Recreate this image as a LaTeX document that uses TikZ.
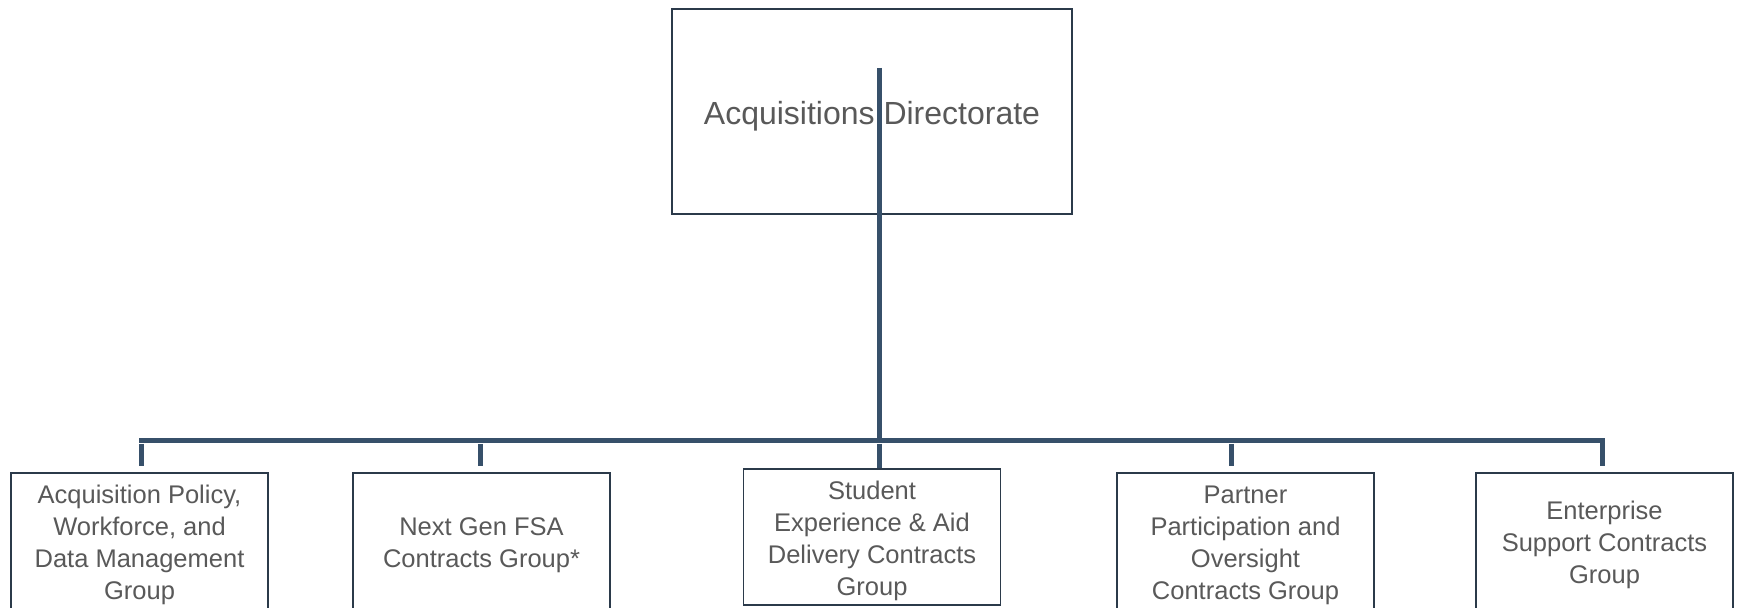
\documentclass[tikz,border=0pt]{standalone}
\usepackage{fontspec}
\setmainfont{Liberation Sans}
\definecolor{conncol}{HTML}{37506A}
\definecolor{boxcol}{HTML}{2B3A4A}
\definecolor{txtcol}{HTML}{595959}
\begin{document}
\begin{tikzpicture}[x=0.5pt,y=-0.5pt,
  topbox/.style={draw=boxcol,line width=1pt,minimum width=200pt,minimum height=102.5pt,inner sep=0pt},
  subbox/.style={draw=boxcol,line width=0.9pt,minimum width=128.5pt,minimum height=68pt,inner sep=0pt},
  toptext/.style={inner sep=0pt,text=txtcol,font=\fontsize{16}{19}\selectfont},
  subtext/.style={inner sep=0pt,align=center,text=txtcol,font=\fontsize{12.75}{16}\selectfont},
  conn/.style={draw=conncol,line width=2.5pt}]
\useasboundingbox[fill=white] (0,0) rectangle (1739,608);
\node[topbox] (top) at (872,111.5) {};
\node[subbox] (b1) at (139.5,541) {};
\node[subbox] (b2) at (481.5,541) {};
\node[subbox] (b3) at (872,537) {};
\node[subbox] (b4) at (1245.5,541) {};
\node[subbox] (b5) at (1604.5,541) {};
\node[toptext] (tt) at ([yshift=-2.2pt]top.center) {Acquisitions Directorate};
\node[subtext] (t1) at ([yshift=-2.2pt]b1.center) {Acquisition Policy,\\Workforce, and\\Data Management\\Group};
\node[subtext] (t2) at ([yshift=-2.2pt]b2.center) {Next Gen FSA\\Contracts Group*};
\node[subtext] (t3) at ([yshift=-2.2pt]b3.center) {Student\\Experience \& Aid\\Delivery Contracts\\Group};
\node[subtext] (t4) at ([yshift=-2.2pt]b4.center) {Partner\\Participation and\\Oversight\\Contracts Group};
\node[subtext] (t5) at ([yshift=-2.2pt]b5.center) {Enterprise\\Support Contracts\\Group};
\coordinate (start) at (879.5,68);
\coordinate (hub) at (879.5,441);
\coordinate (hl) at (139,441);
\coordinate (hr) at (1602,441);
\coordinate (s1) at (141,444);
\coordinate (s2) at (480,444);
\coordinate (s3) at (879.5,444);
\coordinate (s4) at (1231,444);
\draw[conn] (start) -- (hub);
\draw[conn] (hl) -- (hr) -- ([yshift=3pt]hr |- b5.north);
\draw[conn] (s1) -- ([yshift=3pt]s1 |- b1.north);
\draw[conn] (s2) -- ([yshift=3pt]s2 |- b2.north);
\draw[conn] (s3) -- (s3 |- b3.north);
\draw[conn] (s4) -- ([yshift=3pt]s4 |- b4.north);
\end{tikzpicture}
\end{document}
